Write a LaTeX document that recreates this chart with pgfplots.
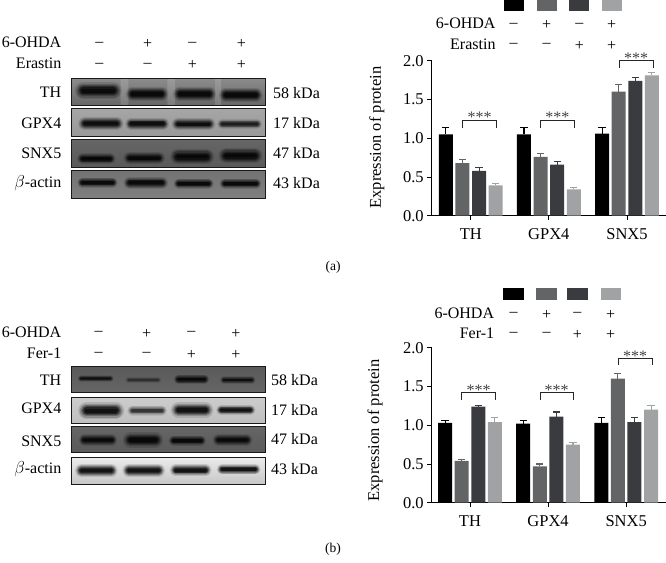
\documentclass[border=0pt]{standalone}
\usepackage{pgfplots}
\usepackage{pgfplotstable}
\usepackage{fontspec}
\setmainfont{Liberation Serif}
\pgfplotsset{compat=1.18}

\definecolor{barA}{HTML}{000000}
\definecolor{barB}{HTML}{636466}
\definecolor{barC}{HTML}{3A3B3E}
\definecolor{barD}{HTML}{A0A2A4}

% top chart, one table per group of the legend: x, value, error
\pgfplotstableread{
x val err
0 1.05 0.09
1 1.05 0.09
2 1.06 0.08
}\topA
\pgfplotstableread{
x val err
0 0.68 0.05
1 0.76 0.04
2 1.60 0.09
}\topB
\pgfplotstableread{
x val err
0 0.58 0.04
1 0.66 0.04
2 1.74 0.04
}\topC
\pgfplotstableread{
x val err
0 0.39 0.02
1 0.34 0.02
2 1.81 0.04
}\topD
% bottom chart
\pgfplotstableread{
x val err
0 1.03 0.03
1 1.02 0.04
2 1.03 0.07
}\botA
\pgfplotstableread{
x val err
0 0.54 0.02
1 0.47 0.03
2 1.60 0.07
}\botB
\pgfplotstableread{
x val err
0 1.24 0.02
1 1.11 0.06
2 1.04 0.06
}\botC
\pgfplotstableread{
x val err
0 1.04 0.06
1 0.75 0.03
2 1.20 0.06
}\botD

\pgfplotsset{
  protein/.style={
    ybar, scale only axis,
    width=234.3pt, height=155pt,
    anchor=south west,
    xmin=-0.5, xmax=2.5, ymin=0, ymax=2,
    axis lines=left,
    axis line style={-, line width=0.9pt},
    bar width=14pt,
    xtick={0,1,2},
    xticklabels={TH,GPX4,SNX5},
    ytick={0,0.5,1,1.5,2},
    tick align=outside,
    major tick length=4.5pt,
    tick style={black, line width=0.9pt},
    yticklabel style={/pgf/number format/.cd, fixed, fixed zerofill, precision=1, assume math mode=true},
    ylabel={},
    tick label style={font=\fontsize{16.5}{16.5}\selectfont},
    xticklabel style={yshift=-5pt},
    clip=false,
  },
  grp/.style={
    fill=#1, draw=none,
    error bars/.cd, y dir=plus, y explicit,
    error bar style={color=#1, line width=1.1pt},
    error mark options={rotate=90, mark size=3.6pt, color=#1, line width=1.1pt},
  },
}

% x1 x2 y thickness darkness, blurred band from stacked strokes
\newcommand{\band}[5]{%
  \foreach \w/\o in {1.7/.12,1.4/.18,1.15/.25,.9/.35,.65/.45,.4/.5}{%
    \pgfmathsetmacro{\lw}{\w*#4}
    \pgfmathsetmacro{\op}{\o*#5}
    \draw[line cap=round, line width=\lw pt, draw opacity=\op, black]
      ({#1+1.5*#4},#3) -- ({#2-1.5*#4},#3);
  }%
}
% y1 y2 top bottom grey
\newcommand{\panel}[5]{%
  \shade[top color=black!#3, bottom color=black!#4] (\bx,#1) rectangle (\bxx,#2);
}
\newcommand{\frameit}[2]{\draw[line width=0.9pt, black!90] (\bx,#1) rectangle (\bxx,#2);}

\begin{document}
\begin{tikzpicture}
\useasboundingbox (0,0) rectangle (666pt,-562pt);
\tikzset{lab/.style={font=\fontsize{16}{16}\selectfont, inner sep=0pt},
  kda/.style={lab, anchor=west},
  rowl/.style={lab, anchor=east}}

% (a) blot, coordinates in 3x pixels
\begin{scope}[x=1/3*1pt, y=-1/3*1pt, shift={(0pt,-20pt)}]
  \def\bx{214}\def\bxx{797}
  \panel{174}{257}{45}{60}{}
  \fill[white, opacity=.14] (362,174) rectangle (385,257) (502,174) rectangle (525,257) (645,174) rectangle (663,257);
  \band{235}{355}{212}{10}{1}\band{385}{497}{222}{8}{1}\band{527}{640}{222}{8}{1}\band{665}{780}{225}{8}{1}
  \frameit{174}{257}
  \panel{266}{349}{35}{40}{}
  \band{243}{362}{311}{8}{1}\band{383}{500}{311}{7}{1}\band{523}{638}{312}{7.5}{1}\band{658}{780}{312}{6}{.75}
  \frameit{266}{349}
  \panel{358}{441}{60}{65}{}
  \band{238}{340}{416}{6.5}{1}\band{378}{487}{414}{7.5}{1}\band{520}{633}{410}{9}{1}\band{665}{778}{407}{9}{1}
  \frameit{358}{441}
  \panel{451}{535}{55}{50}{}
  \band{238}{347}{488}{6}{1}\band{378}{497}{488}{7}{1}\band{527}{635}{491}{6}{1}\band{665}{778}{491}{6}{1}
  \frameit{451}{535}
\end{scope}

% (b) blot
\begin{scope}[x=1/3*1pt, y=-1/3*1pt, shift={(0pt,-310pt)}]
  \def\bx{213}\def\bxx{795}
  \panel{168}{247}{65}{60}{}
  \band{237}{337}{206}{4}{.8}\band{380}{480}{210}{4}{.35}\band{527}{622}{208}{5.5}{1}\band{665}{762}{210}{4.5}{.8}
  \frameit{168}{247}
  \panel{262}{340}{20}{25}{}
  \band{245}{362}{302}{10}{1}\band{388}{495}{302}{6}{.6}\band{522}{630}{300}{9}{1}\band{655}{760}{300}{6}{1}
  \frameit{262}{340}
  \panel{350}{428}{60}{65}{}
  \band{243}{345}{390}{6.5}{1}\band{378}{480}{390}{9}{1}\band{512}{612}{392}{6}{1}\band{645}{750}{390}{7}{1}
  \frameit{350}{428}
  \panel{443}{522}{8}{22}{}
  \band{233}{345}{482}{7.5}{1}\band{375}{487}{481}{7.5}{1}\band{517}{627}{481}{7}{1}\band{657}{775}{478}{6}{1}
  \frameit{443}{522}
\end{scope}

% everything else in reference pixels, y going down
\begin{scope}[x=1pt, y=-1pt]
  % blot labels
  \node[rowl] at (61.5,42) {6-OHDA};
  \node[rowl] at (61.5,63) {Erastin};
  \foreach \l/\a/\b in {99.3/--/--,147.7/+/--,192.3/--/+,241.3/+/+}{
    \node[lab] at (\l,44) {\a};
    \node[lab] at (\l,65) {\b};
  }
  \node[rowl] at (61.5,92) {TH};
  \node[rowl] at (61.5,123) {GPX4};
  \node[rowl] at (61.5,153) {SNX5};
  \node[rowl] at (61.5,183) {$\beta$-actin};
  \node[kda] at (273,93) {58 kDa};
  \node[kda] at (273,123.5) {17 kDa};
  \node[kda] at (273,153.5) {47 kDa};
  \node[kda] at (273,183.5) {43 kDa};

  \node[rowl] at (61.5,332.5) {6-OHDA};
  \node[rowl] at (61.5,353) {Fer-1};
  \foreach \l/\a/\b in {98.7/--/--,146.7/+/--,191.3/--/+,236/+/+}{
    \node[lab] at (\l,333.5) {\a};
    \node[lab] at (\l,354.5) {\b};
  }
  \node[rowl] at (61.5,380) {TH};
  \node[rowl] at (61.5,408) {GPX4};
  \node[rowl] at (61.5,441) {SNX5};
  \node[rowl] at (61.5,469) {$\beta$-actin};
  \node[kda] at (271,380) {58 kDa};
  \node[kda] at (271,410) {17 kDa};
  \node[kda] at (271,439) {47 kDa};
  \node[kda] at (271,469) {43 kDa};

  \node[lab, font=\fontsize{13.5}{13.5}\selectfont] at (333,267) {(a)};
  \node[lab, font=\fontsize{13.5}{13.5}\selectfont] at (333,549) {(b)};

  % legend keys
  \fill[barA] (504.3,0) rectangle (524.3,10.7);
  \fill[barB] (537,0) rectangle (556.7,10.7);
  \fill[barC] (569.3,0) rectangle (589.3,10.7);
  \fill[barD] (602,0) rectangle (621.7,10.7);
  \fill[barA] (503.3,288.3) rectangle (523.7,299.7);
  \fill[barB] (536.3,288.3) rectangle (556.7,299.7);
  \fill[barC] (567.3,288.3) rectangle (587.7,299.7);
  \fill[barD] (601,288.3) rectangle (621,299.7);

  % treatment rows beside the charts
  \node[rowl] at (495.7,23.5) {6-OHDA};
  \node[rowl] at (495.7,44.5) {Erastin};
  \foreach \l/\a/\b in {513.7/--/--,546.7/+/--,579.3/--/+,611.7/+/+}{
    \node[lab] at (\l,25) {\a};
    \node[lab] at (\l,45.5) {\b};
  }
  \node[rowl] at (494.3,313.5) {6-OHDA};
  \node[rowl] at (494.3,333.5) {Fer-1};
  \foreach \l/\a/\b in {513.7/--/--,546.7/+/--,577.3/--/+,610.7/+/+}{
    \node[lab] at (\l,314.5) {\a};
    \node[lab] at (\l,334.5) {\b};
  }

  % y titles
  \node[lab, rotate=90, font=\fontsize{16.5}{16.5}\selectfont] at (376.7,137.5) {Expression of protein};
  \node[lab, rotate=90, font=\fontsize{16.5}{16.5}\selectfont] at (375,430.5) {Expression of protein};

  % significance brackets
  \foreach \a/\b/\t/\y in {462.7/496.7/120/114,540.7/574/120/114,619.3/653/60.7/55}{
    \draw[line width=0.7pt, black!85] (\a,\t+7.5) -- (\a,\t) -- (\b,\t) -- (\b,\t+7.5);
    \node[lab, font=\fontsize{16}{16}\selectfont, black!75] at ({(\a+\b)/2},\y+3) {***};
  }
  \foreach \a/\b/\t/\y in {461.7/495.7/392.7/387,540/573.3/392.7/387,618.3/652/358.3/353}{
    \draw[line width=0.7pt, black!85] (\a,\t+7) -- (\a,\t) -- (\b,\t) -- (\b,\t+7);
    \node[lab, font=\fontsize{16}{16}\selectfont, black!75] at ({(\a+\b)/2},\y+3) {***};
  }
\end{scope}

\begin{axis}[protein, at={(431.7pt,-215.7pt)}]
  \addplot[bar shift=-24.9pt, grp=barA] table[x=x, y=val, y error=err] {\topA};
  \addplot[bar shift=-8.3pt, grp=barB] table[x=x, y=val, y error=err] {\topB};
  \addplot[bar shift=8.3pt, grp=barC] table[x=x, y=val, y error=err] {\topC};
  \addplot[bar shift=24.9pt, grp=barD] table[x=x, y=val, y error=err] {\topD};
\end{axis}
\begin{axis}[protein, at={(431.7pt,-502.7pt)}, xmin=-0.49, xmax=2.51]
  \addplot[bar shift=-24.9pt, grp=barA] table[x=x, y=val, y error=err] {\botA};
  \addplot[bar shift=-8.3pt, grp=barB] table[x=x, y=val, y error=err] {\botB};
  \addplot[bar shift=8.3pt, grp=barC] table[x=x, y=val, y error=err] {\botC};
  \addplot[bar shift=24.9pt, grp=barD] table[x=x, y=val, y error=err] {\botD};
\end{axis}
\end{tikzpicture}
\end{document}
